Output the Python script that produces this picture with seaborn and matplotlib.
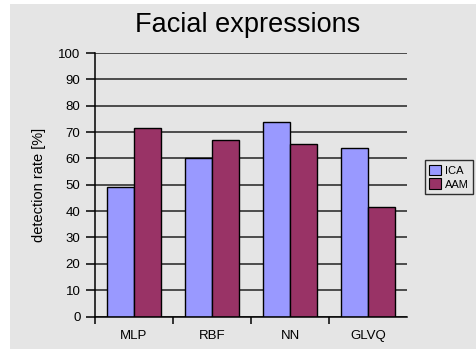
import matplotlib
matplotlib.use("Agg")
import matplotlib.pyplot as plt
import matplotlib.patches as mpatches
import pandas as pd
import seaborn as sns

# Detection rates per classifier and feature set
classifiers = ["MLP", "RBF", "NN", "GLVQ"]
ica_rates = [49, 60, 74, 64]
aam_rates = [71.5, 67, 65.5, 41.5]
series_names = ["ICA", "AAM"]
series_colors = ["#9999ff", "#993366"]
y_ticks = list(range(0, 101, 10))

df = pd.DataFrame({
    "classifier": classifiers * 2,
    "method": [series_names[0]] * len(classifiers) + [series_names[1]] * len(classifiers),
    "rate": ica_rates + aam_rates,
})

sns.set_style("white")
plt.rcParams["font.family"] = ["Liberation Sans", "DejaVu Sans"]
plt.rcParams["text.color"] = "black"
plt.rcParams["axes.labelcolor"] = "black"

bg = "#e5e5e5"
W, H, DPI = 476, 351, 100
fig = plt.figure(figsize=(W / DPI, H / DPI), dpi=DPI)
fig.patch.set_facecolor("white")
# grey chart panel with a thin white margin on the top and left
fig.patches.append(mpatches.Rectangle((10 / W, 2 / H), 1 - 10 / W, 1 - 6 / H,
                                      transform=fig.transFigure, facecolor=bg,
                                      edgecolor="none", zorder=-10))

ax = fig.add_axes([95 / W, 1 - 316.5 / H, 312 / W, 263.5 / H])
ax.set_facecolor(bg)

sns.barplot(data=df, x="classifier", y="rate", hue="method",
            palette=series_colors, width=0.69, edgecolor="black",
            linewidth=1.0, saturation=1, ax=ax, legend=False)

ax.set_xlim(-0.5, 3.5)
ax.set_ylim(0, 100)
ax.set_yticks(y_ticks)
ax.yaxis.grid(True, color="#222222", linewidth=1.1)
ax.set_axisbelow(True)

for s in ["top", "right"]:
    ax.spines[s].set_visible(False)
for s in ["left", "bottom"]:
    ax.spines[s].set_color("black")
    ax.spines[s].set_linewidth(1.1)

ax.tick_params(axis="y", direction="out", length=6.5, width=1.1, pad=4,
               labelsize=9.5, colors="black", left=True)
ax.tick_params(axis="x", which="major", length=0, pad=10, labelsize=9.5,
               labelcolor="black")
ax.set_xticks(range(len(classifiers)))
ax.set_xticklabels(classifiers)
ax.set_xticks([i - 0.5 for i in range(len(classifiers))], minor=True)
ax.tick_params(axis="x", which="minor", direction="out", length=5, width=1.1,
               bottom=True, color="black")

ax.set_xlabel("")
ax.set_ylabel("detection rate [%]", fontsize=10.5, labelpad=9)

fig.text(248 / W, 1 - 25 / H, "Facial expressions", ha="center", va="center",
         fontsize=19.5)

handles = [mpatches.Patch(facecolor=c, edgecolor="black", linewidth=0.8, label=n)
           for c, n in zip(series_colors, series_names)]
leg = fig.legend(handles=handles, loc="center left",
                 bbox_to_anchor=(419 / W, 1 - 177 / H), fontsize=8,
                 frameon=True, fancybox=False, handlelength=1.1,
                 handleheight=1.1, handletextpad=0.3, borderpad=0.4,
                 labelspacing=0.25)
leg.get_frame().set_edgecolor("black")
leg.get_frame().set_facecolor(bg)
leg.get_frame().set_linewidth(1.0)

fig.savefig("out.png", dpi=DPI)
